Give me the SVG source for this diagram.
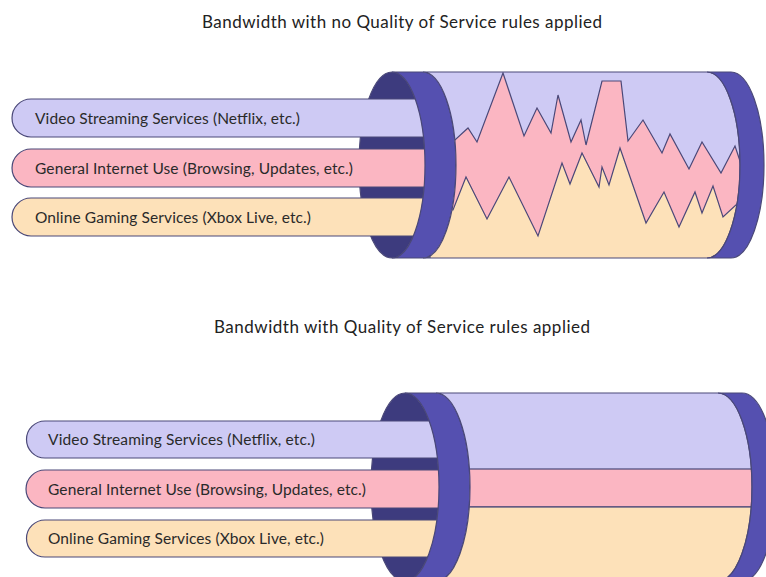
<svg xmlns="http://www.w3.org/2000/svg" width="766" height="577" viewBox="0 0 766 577">
<style>
.title{font-family:Lato,"Liberation Sans",sans-serif;font-size:17px;fill:#222;}
.lbl{font-family:Lato,"Liberation Sans",sans-serif;font-size:15.5px;fill:#2a2a2a;}
.ln{stroke:#4a4878;stroke-width:1.2;stroke-linejoin:miter;}
.lav{fill:#cecaf4;}
.pink{fill:#fbb6c2;}
.yel{fill:#fde1b9;}
.band{fill:#5550b0;}
.dark{fill:#3d3b7e;}
</style>
<defs>
<clipPath id="body1"><path d="M423,72 H707 A33,93 0 0 1 707,258 H423 A33,93 0 0 0 423,72 Z"/></clipPath>
<clipPath id="body2"><path d="M436,393 H718 A34,94 0 0 1 718,581 H436 A34,94 0 0 0 436,393 Z"/></clipPath>
</defs>
<rect width="766" height="577" fill="#fff"/>

<text class="title" x="402" y="28" text-anchor="middle" textLength="400">Bandwidth with no Quality of Service rules applied</text>
<text class="title" x="402" y="333" text-anchor="middle" textLength="376">Bandwidth with Quality of Service rules applied</text>

<!-- Top pipe -->
<g id="pipe-top">
<ellipse class="dark ln" cx="392" cy="165" rx="33" ry="93"/>
<g id="top-video"><path class="lav ln" d="M431,99 H31 A19,19 0 0 0 31,137 H431"/>
<text class="lbl" x="35" y="124" textLength="265">Video Streaming Services (Netflix, etc.)</text></g>
<g id="top-general"><path class="pink ln" d="M431,149 H31 A19,19 0 0 0 31,187 H431"/>
<text class="lbl" x="35" y="174" textLength="318">General Internet Use (Browsing, Updates, etc.)</text></g>
<g id="top-gaming"><path class="yel ln" d="M431,198 H31 A19,19 0 0 0 31,236 H431"/>
<text class="lbl" x="35" y="223" textLength="276">Online Gaming Services (Xbox Live, etc.)</text></g>
<path class="band ln" d="M392,72 H423 A33,93 0 0 1 423,258 H392 A33,93 0 0 0 392,72 Z"/>
<path class="lav" d="M423,72 H707 A33,93 0 0 1 707,258 H423 A33,93 0 0 0 423,72 Z"/>
<g clip-path="url(#body1)">
<path class="pink ln" d="M430,140 L455,140 L468,128 L477,142 L503,73 L524,136 L537,108 L551,133 L558,95 L571,142 L581,120 L586,145 L602,81 L621,81 L628,141 L643,120 L662,153 L670,134 L689,169 L702,142 L721,173 L735,146 L742,167 L770,170 L770,270 L430,270 Z"/>
<path class="yel ln" d="M430,210 L453,210 L466,177 L487,219 L509,177 L538,236 L562,163 L570,184 L582,153 L599,187 L602,167 L609,185 L620,148 L646,223 L664,192 L679,227 L695,192 L702,213 L713,186 L723,217 L738,203 L770,200 L770,270 L430,270 Z"/>
</g>
<path fill="none" class="ln" d="M423,72 H707 A33,93 0 0 1 707,258 H423 A33,93 0 0 0 423,72 Z"/>
<path class="band ln" d="M707,72 H731 A33,93 0 0 1 731,258 H707 A33,93 0 0 0 707,72 Z"/>
</g>

<!-- Bottom pipe -->
<g id="pipe-bottom">
<ellipse class="dark ln" cx="405" cy="487" rx="34" ry="94"/>
<g id="bot-video"><path class="lav ln" d="M446,421 H45 A18.5,18.5 0 0 0 45,458 H446"/>
<text class="lbl" x="48" y="445" textLength="267">Video Streaming Services (Netflix, etc.)</text></g>
<g id="bot-general"><path class="pink ln" d="M446,470 H45 A19,19 0 0 0 45,508 H446"/>
<text class="lbl" x="48" y="495" textLength="318">General Internet Use (Browsing, Updates, etc.)</text></g>
<g id="bot-gaming"><path class="yel ln" d="M446,520 H45 A18.5,18.5 0 0 0 45,557 H446"/>
<text class="lbl" x="48" y="544" textLength="276">Online Gaming Services (Xbox Live, etc.)</text></g>
<path class="band ln" d="M405,393 H436 A34,94 0 0 1 436,581 H405 A34,94 0 0 0 405,393 Z"/>
<path class="lav" d="M436,393 H718 A34,94 0 0 1 718,581 H436 A34,94 0 0 0 436,393 Z"/>
<g clip-path="url(#body2)">
<rect class="pink ln" x="430" y="469" width="340" height="38"/>
<rect class="yel ln" x="430" y="507" width="340" height="80"/>
</g>
<path fill="none" class="ln" d="M436,393 H718 A34,94 0 0 1 718,581 H436 A34,94 0 0 0 436,393 Z"/>
<path class="band ln" d="M718,393 H742 A34,94 0 0 1 742,581 H718 A34,94 0 0 0 718,393 Z"/>
</g>
</svg>
